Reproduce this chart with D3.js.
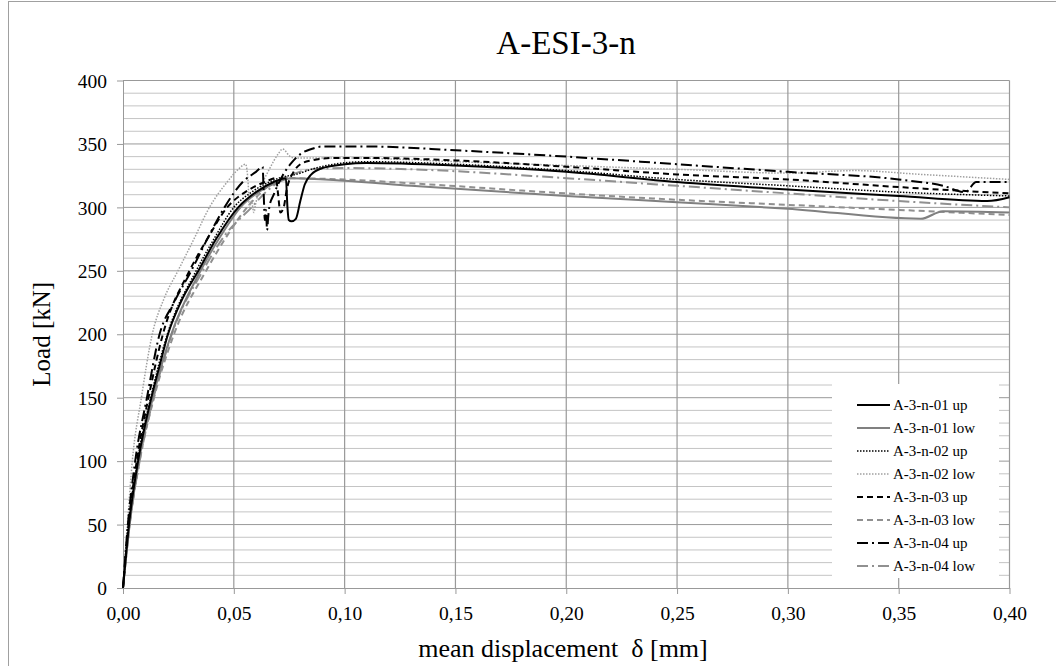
<!DOCTYPE html>
<html><head><meta charset="utf-8">
<script src="https://cdn.jsdelivr.net/npm/d3@7"></script>
<style>body{margin:0;background:#fff}svg{display:block}text{font-family:"Liberation Serif","Times New Roman",serif;fill:#000;white-space:pre}</style>
</head><body><svg id="c" width="1056" height="666"></svg>
<script>
const title = "A-ESI-3-n";
const xLabel = "mean displacement  δ [mm]";
const yLabel = "Load [kN]";
const xTicks = [0,0.05,0.10,0.15,0.20,0.25,0.30,0.35,0.40];
const yTicks = [0,50,100,150,200,250,300,350,400];
const yMinor = d3.range(0,401,10);
const seriesNames = ["A-3-n-01 up","A-3-n-01 low","A-3-n-02 up","A-3-n-02 low","A-3-n-03 up","A-3-n-03 low","A-3-n-04 up","A-3-n-04 low"];

const s01up = [[0,0],[0.0027,50],[0.0068,100],[0.0128,150],[0.0165,175],[0.0203,200],[0.026,225],[0.034,250],[0.042,275],[0.052,300],[0.060,312],[0.068,320],[0.0735,323],[0.0742,300],[0.0748,290],[0.076,289],[0.078,291],[0.080,305],[0.082,318],[0.085,326],[0.090,331],[0.10,334],[0.11,335],[0.15,333],[0.20,328],[0.25,320],[0.30,314],[0.35,309],[0.39,305],[0.40,308]];
const s01low = [[0,0],[0.003,50],[0.0072,100],[0.0135,150],[0.0218,200],[0.035,250],[0.045,280],[0.053,300],[0.062,313],[0.070,320],[0.076,323],[0.10,321],[0.13,317],[0.20,309],[0.25,304],[0.30,299],[0.36,291],[0.37,297],[0.40,296]];
const s02up = [[0,0],[0.0025,50],[0.0065,100],[0.0125,150],[0.020,200],[0.033,250],[0.041,275],[0.050,300],[0.058,312],[0.066,320],[0.072,324],[0.078,326],[0.085,330],[0.095,334],[0.11,336],[0.15,334],[0.20,329],[0.25,322],[0.30,317],[0.35,312],[0.40,309]];
const s02low = [[0,0],[0.002,50],[0.0042,100],[0.0083,150],[0.0132,200],[0.0185,228],[0.0248,250],[0.032,275],[0.039,300],[0.047,320],[0.052,330],[0.0553,334],[0.0565,318],[0.057,300],[0.058,305],[0.059,296],[0.060,304],[0.062,315],[0.066,330],[0.070,342],[0.072,346],[0.0755,340],[0.077,339],[0.10,339],[0.15,336],[0.20,333],[0.25,330],[0.30,327],[0.33,329],[0.36,326],[0.40,322]];
const s03up = [[0,0],[0.0025,50],[0.0062,100],[0.0115,150],[0.018,200],[0.030,250],[0.038,275],[0.047,300],[0.056,313],[0.064,320],[0.069,323],[0.070,310],[0.071,296],[0.0725,300],[0.074,315],[0.077,328],[0.080,334],[0.085,337],[0.095,339],[0.11,339],[0.15,337],[0.20,332],[0.25,326],[0.30,322],[0.35,316],[0.40,311]];
const s03low = [[0,0],[0.003,50],[0.0075,100],[0.014,150],[0.023,200],[0.0375,250],[0.046,275],[0.056,300],[0.063,313],[0.068,320],[0.072,323],[0.10,322],[0.13,319],[0.20,311],[0.25,306],[0.30,302],[0.35,298],[0.40,294]];
const s04up = [[0,0],[0.0022,50],[0.0055,100],[0.0108,150],[0.0165,200],[0.0230,225],[0.0308,250],[0.038,275],[0.0458,300],[0.054,320],[0.060,328],[0.063,332],[0.0635,310],[0.064,290],[0.0645,298],[0.065,282],[0.0655,292],[0.066,300],[0.068,310],[0.072,325],[0.076,335],[0.080,342],[0.085,346],[0.09,348],[0.11,348],[0.15,345],[0.20,340],[0.25,334],[0.30,328],[0.35,322],[0.37,317],[0.38,312],[0.385,320],[0.40,320]];
const s04low = [[0,0],[0.003,50],[0.0075,100],[0.0138,150],[0.022,200],[0.036,250],[0.046,278],[0.058,300],[0.065,313],[0.072,322],[0.078,327],[0.085,330],[0.10,331],[0.13,330],[0.20,323],[0.25,317],[0.30,311],[0.35,305],[0.40,300]];
const seriesData = [s01up,s01low,s02up,s02low,s03up,s03low,s04up,s04low];

const styles = [
  {c:"#000", w:2, d:null},
  {c:"#808080", w:2, d:null},
  {c:"#000", w:1.5, d:"1.5,1.5"},
  {c:"#a0a0a0", w:1.5, d:"1.5,1.5"},
  {c:"#000", w:2, d:"6,4"},
  {c:"#909090", w:2, d:"6,4"},
  {c:"#000", w:2, d:"11,4,2,4"},
  {c:"#909090", w:2, d:"11,4,2,4"}
];

const svg = d3.select("#c");
const L = 123, R = 1009.5, T = 80.5, B = 588;
const x = d3.scaleLinear().domain([0,0.4]).range([L,R]);
const y = d3.scaleLinear().domain([0,400]).range([B,T]);

svg.append("rect").attr("x",8.5).attr("y",1.5).attr("width",1100).attr("height",700)
  .attr("fill","none").attr("stroke","#a0a0a0").attr("stroke-width",1);

svg.append("g").selectAll("line").data(yMinor.filter(v=>v%50!==0)).join("line")
  .attr("x1",L).attr("x2",R).attr("y1",d=>y(d)).attr("y2",d=>y(d))
  .attr("stroke","#c4c4c4").attr("stroke-width",1);
svg.append("g").selectAll("line").data(yTicks.filter(v=>v>0)).join("line")
  .attr("x1",L).attr("x2",R).attr("y1",d=>y(d)).attr("y2",d=>y(d))
  .attr("stroke","#999").attr("stroke-width",1);
svg.append("g").selectAll("line").data(xTicks.filter(v=>v>0)).join("line")
  .attr("x1",d=>x(d)).attr("x2",d=>x(d)).attr("y1",T).attr("y2",B)
  .attr("stroke","#999").attr("stroke-width",1.2);

const fmt = d => d3.format(".2f")(d).replace(".",",");
const gx = svg.append("g").attr("transform",`translate(0,${B})`)
  .call(d3.axisBottom(x).tickValues(xTicks).tickFormat(fmt).tickSize(6).tickSizeOuter(0));
const gy = svg.append("g").attr("transform",`translate(${L},0)`)
  .call(d3.axisLeft(y).tickValues(yTicks).tickSize(6).tickSizeOuter(0));
[gx,gy].forEach(g=>{
  g.select(".domain").attr("stroke","#999");
  g.selectAll(".tick line").attr("stroke","#999");
  g.selectAll("text").attr("font-family","Liberation Serif").attr("font-size",19.5).attr("fill","#000");
});
gx.selectAll("text").attr("y",32).attr("dy",0);
gy.selectAll("text").attr("x",-16).attr("dy","0.34em");

const line = d3.line().x(d=>x(d[0])).y(d=>y(d[1])).curve(d3.curveMonotoneX);
const order = [7,5,3,1,6,4,2,0];
svg.append("g").selectAll("path").data(order).join("path")
  .attr("d",i=>line(seriesData[i]))
  .attr("fill","none")
  .attr("stroke",i=>styles[i].c)
  .attr("stroke-width",i=>styles[i].w)
  .attr("stroke-dasharray",i=>styles[i].d)
  .attr("stroke-linejoin","round");

const lg = svg.append("g");
lg.append("rect").attr("x",832).attr("y",384).attr("width",167).attr("height",194).attr("fill","#fff");
const ly = d3.scaleLinear().domain([0,7]).range([405,566]);
const items = lg.selectAll("g").data(seriesNames).join("g")
  .attr("transform",(d,i)=>`translate(0,${ly(i)})`);
items.append("line").attr("x1",857).attr("x2",890).attr("y1",0).attr("y2",0)
  .attr("stroke",(d,i)=>styles[i].c).attr("stroke-width",(d,i)=>styles[i].w)
  .attr("stroke-dasharray",(d,i)=>styles[i].d);
items.append("text").attr("x",893).attr("y",0).attr("dy","0.35em")
  .attr("font-size",15).text(d=>d);

svg.append("text").attr("x",566).attr("y",54).attr("text-anchor","middle").attr("font-size",33).text(title);
svg.append("text").attr("x",563).attr("y",657).attr("text-anchor","middle").attr("font-size",26).text(xLabel);
svg.append("text").attr("transform",`translate(50,${(T+B)/2}) rotate(-90)`).attr("text-anchor","middle").attr("font-size",25).text(yLabel);
</script></body></html>
